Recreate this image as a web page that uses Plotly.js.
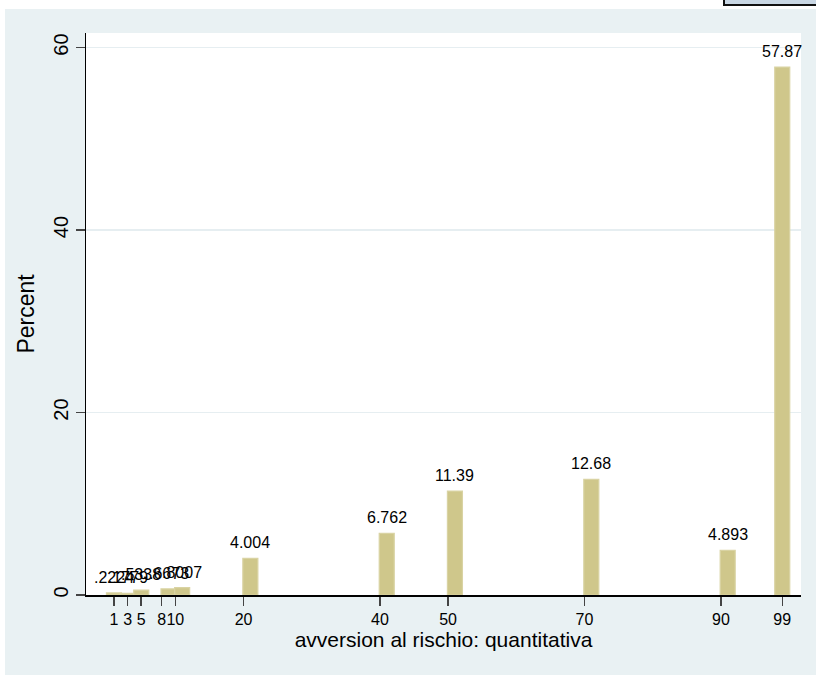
<!DOCTYPE html>
<html><head><meta charset="utf-8">
<script src="https://cdn.plot.ly/plotly-3.0.1.min.js"></script>
<style>
html,body{margin:0;padding:0;background:#fff;width:816px;height:675px;overflow:hidden;position:relative}
#chart{position:absolute;left:5px;top:9px;width:811px;height:666px}
#box{position:absolute;left:723px;top:-6px;width:100px;height:8px;border:2px solid #111;background:#c9d7e4}
</style></head><body>
<div id="box"></div>
<div id="chart"></div>
<script>
// Data
const barPositions = [1, 3, 5, 9, 11, 21, 41, 51, 71, 91, 99];
const percentValues = [0.2224, 0.1779, 0.5338, 0.6673, 0.8007, 4.004, 6.762, 11.39, 12.68, 4.893, 57.87];
const xTickValues = [1, 3, 5, 8, 10, 20, 40, 50, 70, 90, 99];
const xTickLabels = ['1', '3', '5', '8', '10', '20', '40', '50', '70', '90', '99'];
const yTickValues = [0, 20, 40, 60];
const yTickLabels = ['0', '20', '40', '60'];

function fmt(v) {
  return Number(v.toPrecision(4)).toString().replace(/^0\./, '.');
}

const REG = '"Liberation Sans", Arial, sans-serif';

const trace = {
  type: 'bar',
  x: barPositions,
  y: percentValues,
  width: 2.2,
  marker: {color: '#cfc78b', line: {color: '#d9d3a3', width: 1.2}},
  hoverinfo: 'skip',
  cliponaxis: false
};

const annotations = barPositions.map((x, i) => ({
  x: x, y: percentValues[i], xref: 'x', yref: 'y',
  text: fmt(percentValues[i]), showarrow: false,
  yanchor: 'bottom', xanchor: 'center', yshift: 5,
  font: {family: REG, size: 16, color: '#000'}
}));

const layout = {
  width: 811, height: 666,
  margin: {l: 81, r: 15, t: 24, b: 80, pad: 0},
  paper_bgcolor: '#e9f1f3',
  plot_bgcolor: '#ffffff',
  showlegend: false,
  bargap: 0,
  xaxis: {
    range: [-3.1, 101.75],
    tickmode: 'array', tickvals: xTickValues, ticktext: xTickLabels,
    tickangle: 0,
    ticks: 'outside', ticklen: 9, tickwidth: 1.5, tickcolor: '#444',
    showline: true, linecolor: '#000', linewidth: 1.5,
    showgrid: false, zeroline: false,
    tickfont: {family: REG, size: 16, color: '#000'},
    title: {text: 'avversion al rischio: quantitativa', font: {family: REG, size: 21, color: '#000'}, standoff: 4},
    automargin: false
  },
  yaxis: {
    range: [0, 61.6],
    tickmode: 'array', tickvals: yTickValues, ticktext: yTickLabels,
    tickangle: -90,
    ticks: 'outside', ticklen: 9, tickwidth: 1.5, tickcolor: '#444',
    showline: true, linecolor: '#000', linewidth: 1.5,
    showgrid: true, gridcolor: '#e6eef1', gridwidth: 1.5,
    zeroline: false,
    tickfont: {family: REG, size: 20, color: '#000'},
    title: {text: 'Percent', font: {family: REG, size: 23, color: '#000'}, standoff: 8},
    automargin: false
  },
  annotations: annotations
};

Plotly.newPlot('chart', [trace], layout, {staticPlot: true, displayModeBar: false});
</script>
</body></html>
